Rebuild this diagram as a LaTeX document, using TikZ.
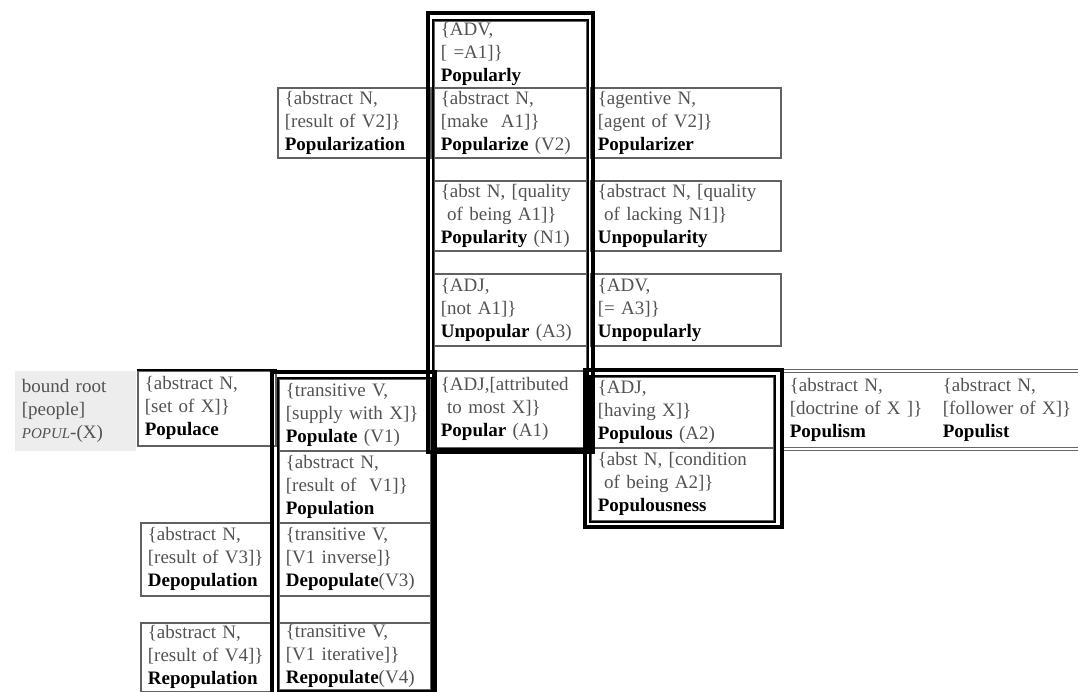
\documentclass[tikz,border=0pt]{standalone}
\usepackage{fontspec}
\setmainfont{Liberation Serif}
\newcommand\hw[1]{\textcolor{black}{\textbf{#1}}}
\tikzset{
  cell/.style={draw=black!62, line width=1.7pt, anchor=north west, inner xsep=7pt,
    inner ysep=1pt, align=left, text=black!68, font=\fontsize{19}{23}\selectfont},
  bare/.style={cell, draw=none},
  frameout/.style={line width=4pt},
  framein/.style={line width=2pt},
  rowline/.style={black!60, line width=1pt, double, double distance=2pt}
}
\begin{document}
\begin{tikzpicture}[x=1pt,y=-1pt]
  \useasboundingbox (0,0) rectangle (1078,691);
  % central column
  \node[cell, text width=139pt, minimum height=67pt] (popularly) at (433,20) {\{ADV,\\{}[ =A1]\}\\\hw{Popularly}};
  \node[cell, text width=139pt, minimum height=70pt] (popularize) at (433,87) {\{abstract N,\\{}[make\ \ A1]\}\\\hw{Popularize} (V2)};
  \node[cell, text width=139pt, minimum height=23pt] (gapa) at (433,157) {};
  \node[cell, text width=139pt, minimum height=70pt] (popularity) at (433,180) {\{abst N, [quality\\\ of being A1]\}\\\hw{Popularity} (N1)};
  \node[cell, text width=139pt, minimum height=23pt] (gapb) at (433,250) {};
  \node[cell, text width=139pt, minimum height=72pt] (unpopular) at (433,273) {\{ADJ,\\{}[not A1]\}\\\hw{Unpopular} (A3)};
  \node[cell, text width=139pt, minimum height=25pt] (gapc) at (433,345) {};
  \node[cell, text width=139pt, minimum height=77pt] (popular) at (433,370) {\{ADJ,[attributed\\\ to most X]\}\\\hw{Popular} (A1)};
  % upper side cells
  \node[cell, text width=139pt, minimum height=70pt] (popularization) at (277,87) {\{abstract N,\\{}[result of V2]\}\\\hw{Popularization}};
  \node[cell, text width=176pt, minimum height=70pt] (popularizer) at (590,87) {\{agentive N,\\{}[agent of V2]\}\\\hw{Popularizer}};
  \node[cell, text width=176pt, minimum height=70pt] (unpopularity) at (590,180) {\{abstract N, [quality\\\ of lacking N1]\}\\\hw{Unpopularity}};
  \node[cell, text width=176pt, minimum height=72pt] (unpopularly) at (590,273) {\{ADV,\\{}[= A3]\}\\\hw{Unpopularly}};
  % root row
  \node[bare, fill=black!7, text width=107pt, minimum height=80pt] (root) at (14,370) {bound root\\{}[people]\\{\fontsize{15}{23}\selectfont\itshape POPUL}-(X)};
  \node[cell, text width=124pt, minimum height=75pt] (populace) at (137,370) {\{abstract N,\\{}[set of X]\}\\\hw{Populace}};
  \node[bare, text width=139pt, minimum height=76pt] (populism) at (782,371) {\{abstract N,\\{}[doctrine of X ]\}\\\hw{Populism}};
  \node[bare, text width=129pt, minimum height=76pt] (populist) at (935,371) {\{abstract N,\\{}[follower of X]\}\\\hw{Populist}};
  % verb column
  \node[cell, text width=138pt, minimum height=72pt] (populate) at (278,378) {\{transitive V,\\{}[supply with X]\}\\\hw{Populate} (V1)};
  \node[cell, text width=138pt, minimum height=72pt] (population) at (278,450) {\{abstract N,\\{}[result of\ \ V1]\}\\\hw{Population}};
  \node[cell, text width=138pt, minimum height=73pt] (depopulate) at (278,522) {\{transitive V,\\{}[V1 inverse]\}\\\hw{Depopulate}(V3)};
  \node[cell, text width=138pt, minimum height=27pt] (gapd) at (278,595) {};
  \node[cell, text width=138pt, minimum height=67pt] (repopulate) at (278,622) {\{transitive V,\\{}[V1 iterative]\}\\\hw{Repopulate}(V4)};
  \node[cell, text width=118pt, minimum height=73pt] (depopulation) at (140,522) {\{abstract N,\\{}[result of V3]\}\\\hw{Depopulation}};
  \node[cell, text width=118pt, minimum height=69pt] (repopulation) at (140,622) {\{abstract N,\\{}[result of V4]\}\\\hw{Repopulation}};
  % adjective group
  \node[cell, text width=169pt, minimum height=71pt] (populous) at (590,376) {\{ADJ,\\{}[having X]\}\\\hw{Populous} (A2)};
  \node[cell, text width=169pt, minimum height=73pt] (populousness) at (590,447) {\{abst N, [condition\\\ of being A2]\}\\\hw{Populousness}};
  \begin{scope}[-]
    \draw[line width=1.7pt] (populace.north west) to (populace.north east);
    \draw[rowline] (populism.north west) to (populist.north east);
    \draw[rowline] (populism.south west) to (populist.south east);
    \draw[frameout] (428,13) rectangle (593,452);
    \draw[framein] (popularly.north west) rectangle (popular.south east);
    \draw[frameout] (272,372) rectangle (435,705);
    \draw[framein] (populate.north west) rectangle (repopulate.south east);
    \draw[frameout] (585,370) rectangle (782,527);
    \draw[framein] (populous.north west) rectangle (populousness.south east);
  \end{scope}
\end{tikzpicture}
\end{document}
